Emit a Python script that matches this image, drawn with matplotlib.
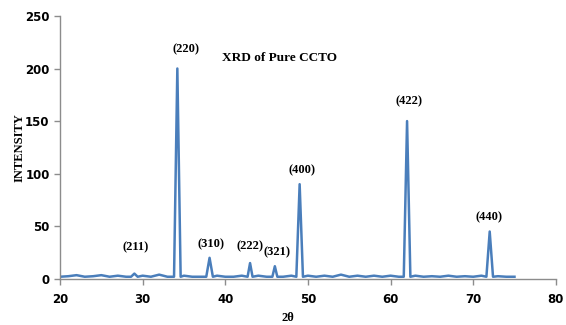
import matplotlib
matplotlib.use("Agg")
import matplotlib.pyplot as plt

two_theta = [20, 21, 22, 23, 24, 25, 26, 27, 28, 28.6, 29, 29.4, 30, 31, 32, 33, 33.8, 34.2, 34.6,
             35, 36, 37, 37.7, 38.1, 38.5, 39, 40, 41, 42, 42.7, 43, 43.3, 44, 45, 45.7, 46, 46.3,
             47, 48, 48.6, 49, 49.4, 50, 51, 52, 53, 54, 55, 56, 57, 58, 59, 60, 61, 61.6, 62, 62.4,
             63, 64, 65, 66, 67, 68, 69, 70, 71, 71.6, 72, 72.4, 73, 74, 75]
intensity = [2, 2.5, 3.5, 2, 2.5, 3.5, 2, 3, 2, 2, 5, 2, 3, 2, 4, 2, 2, 200, 2,
             3, 2, 2, 2, 20, 2, 3, 2, 2, 3, 2, 15, 2, 3, 2, 2, 12, 2,
             2, 3, 2, 90, 2, 3, 2, 3, 2, 4, 2, 3, 2, 3, 2, 3, 2, 2, 150, 2,
             3, 2, 2.5, 2, 3, 2, 2.5, 2, 3, 2, 45, 2, 2.5, 2, 2]

peak_labels = ["(211)", "(220)", "(310)", "(222)", "(321)", "(400)", "(422)", "(440)"]
label_x = [29.2, 35.2, 38.3, 43.0, 46.2, 49.3, 62.2, 71.9]
label_y = [30, 218, 33, 31, 25, 103, 169, 59]

fig = plt.figure(figsize=(5.66, 3.25), dpi=100)
ax = fig.add_axes([0.106, 0.142, 0.876, 0.809])
ax.plot(two_theta, intensity, color="#4a7ebb", lw=1.8)
ax.set_xlim(20, 80)
ax.set_ylim(0, 250)
ax.set_xticks(range(20, 81, 10))
ax.set_yticks(range(0, 251, 50))
for s in ["top", "right"]:
    ax.spines[s].set_visible(False)
for s in ["left", "bottom"]:
    ax.spines[s].set_color("#8c8c8c")
    ax.spines[s].set_linewidth(1.0)
ax.tick_params(colors="#8c8c8c", length=4, width=1, labelcolor="black")
ax.tick_params(axis="x", pad=6)
for lab in ax.get_xticklabels() + ax.get_yticklabels():
    lab.set_fontweight("bold")
    lab.set_fontsize(8.5)
    lab.set_family("DejaVu Sans")

serif = "Liberation Serif"
for t, x, y in zip(peak_labels, label_x, label_y):
    ax.text(x, y, t, ha="center", va="center", fontsize=9, fontweight="bold", family=serif)
ax.text(46.6, 210, "XRD of Pure CCTO", ha="center", va="center", fontsize=9.5,
        fontweight="bold", family=serif)
fig.text(288 / 566, 1 - 318 / 325, "2θ", ha="center", va="center", fontsize=9,
         fontweight="bold", family=serif)
ax.set_ylabel("INTENSITY", fontsize=9, fontweight="bold", family=serif, labelpad=0)

fig.savefig("out.png", dpi=100)
